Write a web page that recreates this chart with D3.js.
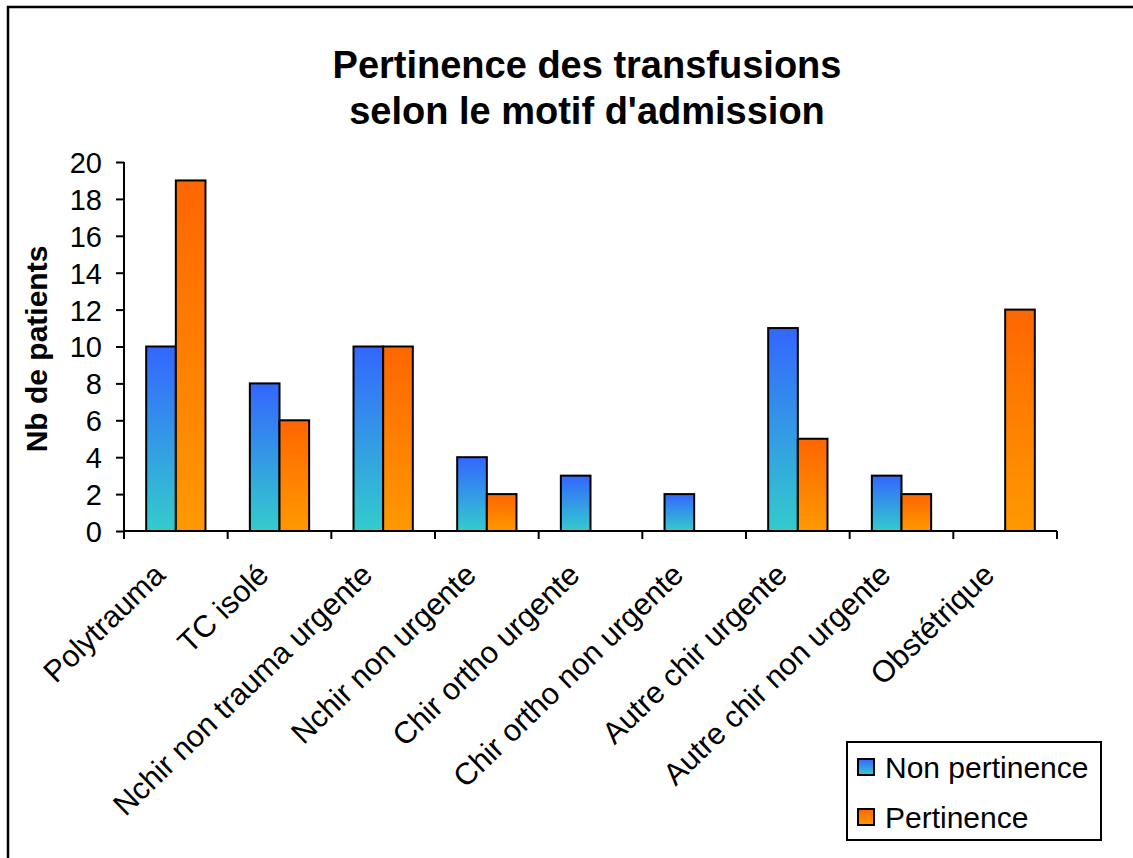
<!DOCTYPE html>
<html>
<head>
<meta charset="utf-8">
<script src="https://cdn.jsdelivr.net/npm/d3@7"></script>
<style>
  html, body { margin: 0; padding: 0; background: #fff; }
  svg { display: block; font-family: Arial, "Liberation Sans", sans-serif; }
</style>
</head>
<body>
<svg id="chart" width="1133" height="858"></svg>
<script>
const categories = ["Polytrauma", "TC isolé", "Nchir non trauma urgente", "Nchir non urgente",
  "Chir ortho urgente", "Chir ortho non urgente", "Autre chir urgente", "Autre chir non urgente", "Obstétrique"];
const seriesNames = ["Non pertinence", "Pertinence"];
const nonPertinence = [10, 8, 10, 4, 3, 2, 11, 3, 0];
const pertinence = [19, 6, 10, 2, 0, 0, 5, 2, 12];
const yTicks = [0, 2, 4, 6, 8, 10, 12, 14, 16, 18, 20];
const titleLines = ["Pertinence des transfusions", "selon le motif d'admission"];
const yTitle = "Nb de patients";

const seriesValues = [nonPertinence, pertinence];
const gradStops = [["#3366FF", "#33CCCC"], ["#FF6600", "#FF9900"]];

const svg = d3.select("#chart");
const defs = svg.append("defs");
gradStops.forEach((s, i) => {
  const g = defs.append("linearGradient").attr("id", "grad" + i)
    .attr("x1", 0).attr("y1", 0).attr("x2", 0).attr("y2", 1);
  g.append("stop").attr("offset", "0%").attr("stop-color", s[0]);
  g.append("stop").attr("offset", "100%").attr("stop-color", s[1]);
});

// outer frame
svg.append("rect").attr("x", 8).attr("y", 7).attr("width", 1140).attr("height", 870)
  .attr("fill", "#fff").attr("stroke", "#000").attr("stroke-width", 2.5);

const plot = { left: 124, right: 1057, top: 162, bottom: 531 };

const x = d3.scaleBand().domain(categories).range([plot.left, plot.right]).paddingInner(0).paddingOuter(0);
const x1 = d3.scaleBand().domain(seriesNames).range([0, x.bandwidth() * 0.572]);
const y = d3.scaleLinear().domain([0, 20]).range([plot.bottom, plot.top]);
const groupOffset = (x.bandwidth() - x1.range()[1]) / 2;

// title
svg.append("g").selectAll("text").data(titleLines).join("text")
  .attr("x", 587).attr("y", (d, i) => 78 + i * 46)
  .attr("text-anchor", "middle").attr("font-weight", "bold").attr("font-size", 38)
  .text(d => d);

// y title
svg.append("text").attr("transform", "translate(47,349) rotate(-90)")
  .attr("text-anchor", "middle").attr("font-weight", "bold").attr("font-size", 30)
  .text(yTitle);

// bars
seriesNames.forEach((name, si) => {
  svg.append("g").selectAll("rect").data(seriesValues[si].map((v, i) => ({ v, c: categories[i] })))
    .join("rect")
    .filter(d => d.v > 0)
    .attr("x", d => x(d.c) + groupOffset + x1(name))
    .attr("width", x1.bandwidth())
    .attr("y", d => y(d.v))
    .attr("height", d => y(0) - y(d.v))
    .attr("fill", `url(#grad${si})`)
    .attr("stroke", "#000").attr("stroke-width", 2);
});

// y axis
const yAxis = svg.append("g").attr("transform", `translate(${plot.left},0)`)
  .call(d3.axisLeft(y).tickValues(yTicks).tickSize(8).tickPadding(14).tickFormat(d3.format("d")));
yAxis.select(".domain").attr("stroke", "#000").attr("stroke-width", 2).attr("d", `M0,${plot.top}V${plot.bottom}`);
yAxis.selectAll(".tick line").attr("stroke", "#000").attr("stroke-width", 2);
yAxis.selectAll(".tick text").attr("font-size", 29).attr("fill", "#000")
  .attr("font-family", "Arial, 'Liberation Sans', sans-serif").attr("dy", "0.36em");

// x axis
const xAxis = svg.append("g").attr("transform", `translate(0,${plot.bottom})`)
  .call(d3.axisBottom(x).tickSize(0).tickFormat(""));
xAxis.select(".domain").attr("stroke", "#000").attr("stroke-width", 2).attr("d", `M${plot.left},0H${plot.right}`);
xAxis.selectAll(".tick").remove();
const boundaries = d3.range(categories.length + 1).map(i => i === categories.length ? plot.right : x(categories[i]));
xAxis.selectAll("line.bt").data(boundaries).join("line").attr("class", "bt")
  .attr("x1", d => d).attr("x2", d => d).attr("y1", 0).attr("y2", 8)
  .attr("stroke", "#000").attr("stroke-width", 2);

// category labels
svg.append("g").selectAll("text").data(categories).join("text")
  .attr("transform", d => `translate(${x(d) + x.bandwidth() / 2 - 9},${plot.bottom + 46}) rotate(-44)`)
  .attr("text-anchor", "end").attr("font-size", 30.5)
  .text(d => d);

// legend
const lg = svg.append("g");
lg.append("rect").attr("x", 847).attr("y", 742).attr("width", 254).attr("height", 98)
  .attr("fill", "#fff").attr("stroke", "#000").attr("stroke-width", 2);
seriesNames.forEach((name, i) => {
  lg.append("rect").attr("x", 858).attr("y", 759 + i * 50).attr("width", 16).attr("height", 16)
    .attr("fill", `url(#grad${i})`).attr("stroke", "#000").attr("stroke-width", 2);
  lg.append("text").attr("x", 885).attr("y", 778 + i * 50).attr("font-size", 30).text(name);
});
</script>
</body>
</html>
